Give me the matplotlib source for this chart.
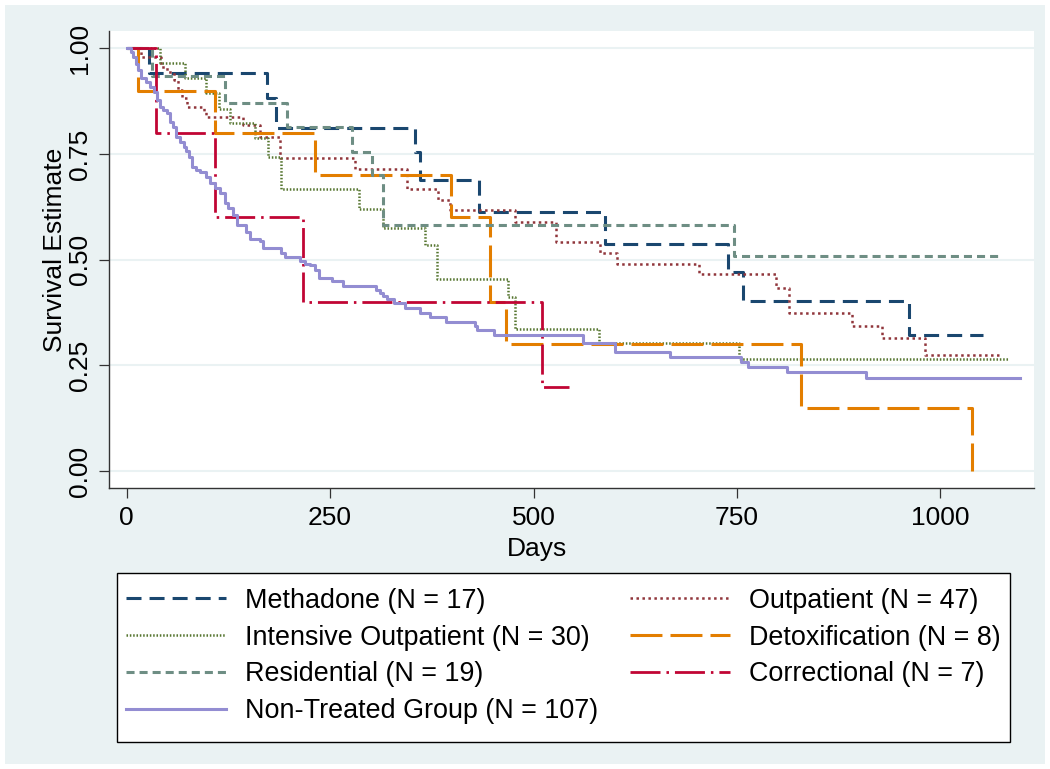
import matplotlib
matplotlib.use("Agg")
import matplotlib.pyplot as plt
from matplotlib.patches import Rectangle

plt.rcParams['font.family'] = ['Liberation Sans', 'DejaVu Sans']
plt.rcParams['lines.scale_dashes'] = False

FS = 19
LEG_FS = 19.4

# Kaplan-Meier step curves (days, survival estimate)
methadone_t = [0, 28, 172, 184, 354, 360, 433, 588, 739, 757, 962, 1053]
methadone_s = [1.0, 0.941, 0.882, 0.813, 0.754, 0.689, 0.614, 0.537, 0.470, 0.403, 0.322, 0.322]

outpatient_t = [0, 18, 42, 50, 58, 63, 68, 74, 95, 97, 143, 164, 188, 281, 344, 383, 397,
                477, 528, 582, 602, 703, 798, 814, 892, 928, 981, 1072]
outpatient_s = [1.0, 0.979, 0.957, 0.945, 0.925, 0.902, 0.882, 0.862, 0.850, 0.839, 0.819, 0.791,
                0.740, 0.714, 0.667, 0.641, 0.618, 0.590, 0.543, 0.515, 0.490, 0.466, 0.432,
                0.375, 0.343, 0.314, 0.274, 0.274]

intensive_t = [0, 41, 72, 98, 113, 127, 158, 174, 190, 285, 315, 367, 381, 469, 477, 580, 752, 1084]
intensive_s = [1.0, 0.965, 0.929, 0.894, 0.856, 0.823, 0.787, 0.744, 0.667, 0.619, 0.574, 0.535,
               0.454, 0.411, 0.335, 0.304, 0.264, 0.264]

detox_t = [0, 14, 108, 231, 399, 447, 466, 829, 1039]
detox_s = [1.0, 0.90, 0.80, 0.70, 0.60, 0.40, 0.30, 0.15, 0.0]

residential_t = [0, 31, 121, 197, 277, 301, 315, 746, 1073]
residential_s = [1.0, 0.935, 0.872, 0.815, 0.756, 0.700, 0.582, 0.509, 0.509]

correctional_t = [0, 36, 108.5, 217, 511, 543]
correctional_s = [1.0, 0.8, 0.6, 0.4, 0.2, 0.2]

nontreated_t = [0, 5, 8, 11, 14, 18, 24, 29, 33, 37, 41, 45, 49, 53, 57, 61, 66, 70, 73, 76, 80,
                85, 90, 98, 102, 108, 115, 121, 125, 131, 135, 147, 152, 164, 168, 190, 195, 213,
                219, 225, 231, 236, 252, 266, 307, 311, 315, 320, 328, 342, 361, 373, 393, 428,
                430, 451, 561, 600, 668, 755, 764, 811, 909, 1098]
nontreated_s = [1.0, 0.991, 0.981, 0.963, 0.949, 0.929, 0.920, 0.910, 0.898, 0.878, 0.862, 0.855,
                0.847, 0.827, 0.815, 0.791, 0.779, 0.768, 0.757, 0.744, 0.720, 0.713, 0.708, 0.697,
                0.681, 0.669, 0.657, 0.634, 0.622, 0.606, 0.582, 0.566, 0.550, 0.545, 0.527, 0.517,
                0.507, 0.497, 0.491, 0.487, 0.476, 0.457, 0.450, 0.438, 0.428, 0.421, 0.414, 0.406,
                0.397, 0.385, 0.375, 0.365, 0.353, 0.343, 0.334, 0.322, 0.302, 0.281, 0.269, 0.259,
                0.247, 0.235, 0.221, 0.221]

labels = ["Methadone (N = 17)", "Outpatient (N = 47)", "Intensive Outpatient (N = 30)",
          "Detoxification (N = 8)", "Residential (N = 19)", "Correctional (N = 7)",
          "Non-Treated Group (N = 107)"]

xticks = [0, 250, 500, 750, 1000]
yticks = [0, 0.25, 0.5, 0.75, 1.0]

# stata s2color palette + line patterns
series = [
    (methadone_t, methadone_s, '#1A476F', (0, (10.8, 5.8)), 2.2),
    (outpatient_t, outpatient_s, '#90353B', (0, (1.8, 2.5)), 1.8),
    (intensive_t, intensive_s, '#55752F', (0, (1.1, 1.3)), 1.8),
    (detox_t, detox_s, '#E37E00', (0, (23, 5.8)), 2.2),
    (residential_t, residential_s, '#6E8E84', (0, (5.8, 3.6)), 2.2),
    (correctional_t, correctional_s, '#C10534', (0, (21.6, 4.3, 1.8, 4.3)), 2.0),
    (nontreated_t, nontreated_s, '#938DD2', '-', 2.2),
]

W, H = 1050, 769
fig = plt.figure(figsize=(W / 100, H / 100), dpi=100)
fig.patch.set_facecolor('white')
fig.add_artist(Rectangle((5 / W, 5 / H), 1 - 10 / W, 1 - 10 / H, transform=fig.transFigure,
                         facecolor='#EAF2F3', edgecolor='none', zorder=-10))

ax = fig.add_axes([109.3 / W, 1 - 487.7 / H, 925 / W, 456.7 / H])
ax.set_facecolor('white')

handles = []
for (t, s, col, ls, lw), lab in zip(series, labels):
    ln, = ax.plot(t, s, drawstyle='steps-post', color=col, linestyle=ls, linewidth=lw, label=lab)
    handles.append(ln)

ax.set_xlim(-21.4, 1115.5)
ax.set_ylim(-0.0395, 1.0414)
ax.set_xticks(xticks)
ax.set_yticks(yticks)
ax.set_yticklabels([f"{v:.2f}" for v in yticks])
ax.grid(axis='y', color='#EAF2F3', linewidth=1.5)
ax.set_axisbelow(True)

for side in ['top', 'right']:
    ax.spines[side].set_visible(False)
for side in ['left', 'bottom']:
    ax.spines[side].set_color('#333333')
    ax.spines[side].set_linewidth(1.0)

ax.tick_params(axis='both', direction='out', length=7.2, width=0.9, color='#333333',
               labelsize=FS, labelcolor='black', pad=6)
ax.tick_params(axis='y', labelrotation=90, pad=5.5)
for lab in ax.get_yticklabels():
    lab.set_va('center')

ax.set_xlabel('Days', fontsize=FS)
ax.xaxis.set_label_coords((537 - 109.3) / 925, -0.108)
ax.set_ylabel('Survival Estimate', fontsize=FS)
ax.yaxis.set_label_coords(-0.046, (487.7 - 250) / 456.7)

# legend frame drawn separately so the padding can match stata's
fig.add_artist(Rectangle((117 / W, 1 - 742 / H), 893 / W, 169 / H, transform=fig.transFigure,
                         facecolor='white', edgecolor='black', linewidth=1.0, zorder=1))

# legend: two columns, row-major like stata
order = [0, 2, 4, 6, 1, 3, 5]
leg = fig.legend([handles[i] for i in order], [labels[i] for i in order],
                 loc='upper left', bbox_to_anchor=(117 / W, 0.05, 893 / W, 1 - 579 / H - 0.05),
                 mode='expand', ncol=2, fontsize=LEG_FS, frameon=False,
                 borderaxespad=0, borderpad=0.33, handlelength=3.72,
                 handletextpad=0.71, labelspacing=0.40, columnspacing=1.0)
leg.set_zorder(2)

fig.savefig('out.png', dpi=100, facecolor=fig.get_facecolor())
